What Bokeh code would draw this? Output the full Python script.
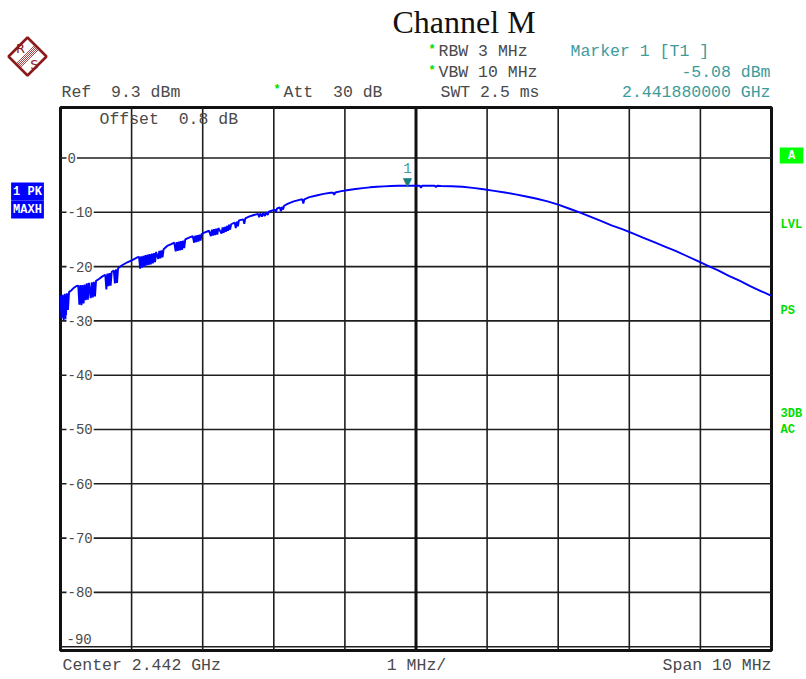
from bokeh.plotting import figure
from bokeh.models import Label, PolyAnnotation, Arrow, BoxAnnotation
from bokeh.embed import file_html
from bokeh.resources import INLINE

# ---------------- data ----------------
ref_level_dbm = 9.3
range_db = 100
span_mhz = 10
x_divisions_mhz = [-4, -3, -2, -1, 1, 2, 3, 4]
center_mhz = [0]
y_ticks_db = [0, -10, -20, -30, -40, -50, -60, -70, -80, -90]
y_tick_labels = ["0", "-10", "-20", "-30", "-40", "-50", "-60", "-70", "-80", "-90"]
marker_mhz = -0.12
marker_dbm = -5.08

trace_mhz = [
    -5.00, -4.985, -4.97, -4.955, -4.94, -4.925, -4.91, -4.895, -4.88, -4.85, -4.82, -4.78,
    -4.75, -4.735, -4.72, -4.705, -4.69, -4.675, -4.66,
    -4.645, -4.63, -4.615, -4.60,
    -4.575, -4.56, -4.545, -4.53, -4.515, -4.50,
    -4.46, -4.41, -4.37,
    -4.355, -4.34, -4.325, -4.31, -4.295, -4.28,
    -4.25,
    -4.235, -4.22, -4.205, -4.19,
    -4.14, -4.06, -3.99, -3.92,
    -3.895, -3.88, -3.865, -3.85, -3.835, -3.82, -3.805,
    -3.79, -3.775, -3.76, -3.745, -3.73, -3.715, -3.70, -3.685, -3.67, -3.655,
    -3.625, -3.61, -3.595, -3.58, -3.565, -3.55,
    -3.50, -3.45, -3.40,
    -3.38, -3.365, -3.35, -3.335, -3.32, -3.305, -3.29, -3.275, -3.26, -3.245,
    -3.20, -3.14,
    -3.12, -3.105, -3.09, -3.075, -3.06, -3.045, -3.03, -3.015,
    -2.97, -2.91,
    -2.885, -2.87, -2.855, -2.84, -2.825, -2.81, -2.795, -2.78,
    -2.735, -2.72, -2.705, -2.69, -2.675, -2.66, -2.645, -2.63, -2.615, -2.60,
    -2.55,
    -2.535, -2.52, -2.505, -2.49,
    -2.43, -2.415, -2.40,
    -2.35, -2.28, -2.22,
    -2.205, -2.19, -2.165, -2.15, -2.125, -2.11, -2.085, -2.07,
    -2.03,
    -1.985, -1.97, -1.955, -1.915, -1.90, -1.885, -1.87, -1.855,
    -1.80, -1.72, -1.64, -1.60, -1.585, -1.57,
    -1.50, -1.40, -1.30, -1.20, -1.165, -1.15, -1.135,
    -1.05, -0.95, -0.85, -0.75, -0.65, -0.55, -0.45, -0.35, -0.25, -0.12, 0.00,
    0.055, 0.07, 0.085, 0.20, 0.265, 0.28, 0.295, 0.35, 0.50, 0.65, 0.80, 0.95,
    1.10, 1.25, 1.40, 1.55, 1.70, 1.85, 2.00, 2.15, 2.30, 2.45, 2.60, 2.75,
    2.90, 3.05, 3.20, 3.35, 3.50, 3.65, 3.80, 3.95, 4.10, 4.25, 4.40, 4.55,
    4.70, 4.85, 5.00,
]
trace_dbm = [
    -25.3, -29.5, -25.2, -29.9, -25.0, -29.7, -24.9, -28.0, -24.7, -24.4, -24.0, -23.6,
    -23.5, -27.0, -23.4, -27.1, -23.4, -26.8, -23.3,
    -26.2, -23.1, -26.1, -23.0,
    -25.8, -22.9, -25.7, -22.8, -25.5, -22.6,
    -22.3, -21.8, -21.5,
    -24.2, -21.3, -23.6, -21.2, -23.5, -21.0,
    -20.7,
    -23.1, -20.5, -23.0, -20.3,
    -19.8, -19.2, -18.8, -18.3,
    -18.2, -20.4, -18.1, -20.2, -18.0, -20.0, -17.9,
    -19.8, -17.8, -19.7, -17.7, -19.6, -17.6, -19.4, -17.5, -19.2, -17.3,
    -18.6, -17.1, -18.5, -17.0, -18.3, -16.8,
    -16.2, -15.9, -15.6,
    -17.2, -15.5, -17.1, -15.4, -17.0, -15.3, -16.9, -15.2, -16.6, -15.0,
    -14.7, -14.4,
    -15.6, -14.3, -15.5, -14.2, -15.4, -14.1, -15.2, -14.0,
    -13.7, -13.4,
    -14.4, -13.2, -14.3, -13.1, -14.2, -13.0, -14.1, -12.9,
    -13.9, -12.8, -13.8, -12.7, -13.6, -12.5, -13.4, -12.3, -13.2, -12.2,
    -11.9,
    -12.9, -11.7, -12.6, -11.5,
    -11.3, -12.1, -11.1,
    -10.8, -10.5, -10.3,
    -10.9, -10.2, -10.8, -10.1, -10.7, -10.0, -10.5, -9.9,
    -9.7,
    -9.5, -10.0, -9.3, -9.1, -9.8, -9.0, -9.5, -8.8,
    -8.4, -8.0, -7.7, -7.6, -8.4, -7.6,
    -7.2, -6.9, -6.6, -6.4, -6.4, -6.8, -6.35,
    -6.1, -5.9, -5.7, -5.55, -5.4, -5.3, -5.22, -5.16, -5.12, -5.08, -5.10,
    -5.12, -5.5, -5.12, -5.12, -5.12, -5.35, -5.12, -5.15, -5.2, -5.3, -5.5, -5.75,
    -6.05, -6.35, -6.7, -7.1, -7.5, -8.0, -8.6, -9.3, -10.0, -10.8, -11.6, -12.4,
    -13.1, -13.9, -14.7, -15.5, -16.3, -17.1, -18.0, -18.9, -19.8, -20.7, -21.7, -22.6,
    -23.6, -24.5, -25.4,
]

# ---------------- layout ----------------
W, H = 806, 679
FL, FT, FR, FB = 60, 107, 771, 650   # instrument grid edges, in canvas pixels

x_lo, x_hi = -span_mhz / 2, span_mhz / 2
y_hi = ref_level_dbm
y_lo = ref_level_dbm - range_db
ppx = (FR - FL) / (x_hi - x_lo)
ppy = (FB - FT) / (y_hi - y_lo)

MONO = "Liberation Mono"
GRAY = "#4a4a4a"
TEAL = "#3d9b9b"
GREEN = "#00dd00"
RED = "#8b1a1a"
GRID = "#1e1e1e"
NB = "\u00a0"

p = figure(
    width=W, height=H,
    x_range=(x_lo - FL / ppx, x_hi + (W - FR) / ppx),
    y_range=(y_lo - (H - FB) / ppy, y_hi + FT / ppy),
    min_border=0, x_axis_location=None, y_axis_location=None,
    toolbar_location=None, output_backend="svg", title=None,
)
p.background_fill_color = "white"
p.border_fill_color = "white"
p.outline_line_color = None
p.grid.visible = False

# instrument graticule
nx = len(x_divisions_mhz)
p.segment(x0=x_divisions_mhz, y0=[y_lo] * nx, x1=x_divisions_mhz, y1=[y_hi] * nx,
          line_color=GRID, line_width=1.6)
ny = len(y_ticks_db)
p.segment(x0=[x_lo] * ny, y0=y_ticks_db, x1=[x_hi] * ny, y1=y_ticks_db,
          line_color=GRID, line_width=1.6)
p.segment(x0=center_mhz, y0=[y_lo], x1=center_mhz, y1=[y_hi],
          line_color="#111111", line_width=3)
p.add_layout(BoxAnnotation(left=x_lo, right=x_hi, bottom=y_lo, top=y_hi,
                           fill_alpha=0, line_color="#111111", line_alpha=1.0,
                           line_width=3, level="underlay"))

p.line(trace_mhz, trace_dbm, line_color="#0000ff", line_width=1.9)


def sx(px):
    return px


def sy(py):
    return H - py


def lab(text, px, py, size="16.5px", color=GRAY, align="left", font=MONO,
        bold=False, bg=None, pad=0, baseline="middle"):
    p.add_layout(Label(
        x=sx(px), y=sy(py), x_units="screen", y_units="screen",
        text=text.replace(" ", NB),
        text_align=align, text_baseline=baseline, text_font=font,
        text_font_size=size, text_color=color,
        text_font_style="bold" if bold else "normal",
        background_fill_color=bg, padding=pad,
    ))


# y tick labels inside the grid
for v, t in zip(y_ticks_db[:-1], y_tick_labels[:-1]):
    p.add_layout(Label(
        x=sx(66), y=v, x_units="screen", y_units="data", text=t,
        text_align="left", text_baseline="middle", text_font=MONO,
        text_font_size="14px", text_color=GRAY, background_fill_color="white",
        padding=1,
    ))
lab(y_tick_labels[-1], 66, 638, size="14px")

# marker
p.add_layout(Label(x=marker_mhz, y=marker_dbm, y_offset=4, text="\u25bc", text_align="center",
                   text_baseline="alphabetic", text_font="DejaVu Sans",
                   text_font_size="12px", text_color="#167c7c"))
p.add_layout(Label(x=marker_mhz, y=marker_dbm, y_offset=13, text="1", text_align="center",
                   text_baseline="bottom", text_font=MONO,
                   text_font_size="14px", text_color=TEAL))

# title
lab("Channel M", 392, 21, size="32px", color="#111111", font="Liberation Serif")

# header
lab("Ref  9.3 dBm", 61, 92)
lab("*", 273, 89, size="12px", color=GREEN, bold=True)
lab("Att  30 dB", 283, 92)
lab("*", 428, 49, size="12px", color=GREEN, bold=True)
lab("RBW 3 MHz", 438, 51)
lab("*", 428, 70, size="12px", color=GREEN, bold=True)
lab("VBW 10 MHz", 438, 72)
lab("SWT 2.5 ms", 440, 92)
lab("Marker 1 [T1 ]", 570, 51, color=TEAL)
lab(f"{marker_dbm:.2f} dBm", 770, 72, color=TEAL, align="right")
lab(f"{2.442 + marker_mhz / 1000:.9f} GHz", 770, 92, color=TEAL, align="right")
lab("Offset  0.8 dB", 99, 119)

# footer
lab("Center 2.442 GHz", 62, 665)
lab("1 MHz/", 416, 665, align="center")
lab("Span 10 MHz", 771, 665, align="right")

# left trace info boxes
lab("1 PK", 27, 191, size="12px", color="white", bold=True, bg="#0000ff", pad=2, align="center")
lab("MAXH", 27, 209, size="12px", color="white", bold=True, bg="#0000ff", pad=2, align="center")

# right side status
lab(" A ", 791, 155, size="12px", color="white", bold=True, bg="#00ff00", pad=1, align="center")
lab("LVL", 780, 224, size="12px", color=GREEN, bold=True)
lab("PS", 780, 310, size="12px", color=GREEN, bold=True)
lab("3DB", 780, 413, size="12px", color=GREEN, bold=True)
lab("AC", 780, 429, size="12px", color=GREEN, bold=True)

# R&S logo
cx, cy, r = 27, 56, 19
p.add_layout(PolyAnnotation(
    xs=[sx(cx - r), sx(cx), sx(cx + r), sx(cx)],
    ys=[sy(cy), sy(cy - r), sy(cy), sy(cy + r)],
    xs_units="screen", ys_units="screen", level="underlay",
    fill_color="white", fill_alpha=1.0, line_color=RED, line_alpha=1.0, line_width=2.6,
))
for d in (-2.0, -1.0, 0.0, 1.0, 2.0):
    p.add_layout(Arrow(
        end=None, x_start=sx(cx - r / 2 + d), y_start=sy(cy + r / 2 + d),
        x_end=sx(cx + r / 2 + d), y_end=sy(cy - r / 2 + d),
        start_units="screen", end_units="screen", line_color=RED, line_width=0.8,
    ))
lab("R", 20, 48, size="13px", color=RED, font="DejaVu Sans", align="center")
lab("S", 34, 64, size="13px", color=RED, font="DejaVu Sans", align="center")

open("out.html", "w").write(file_html(p, INLINE))
